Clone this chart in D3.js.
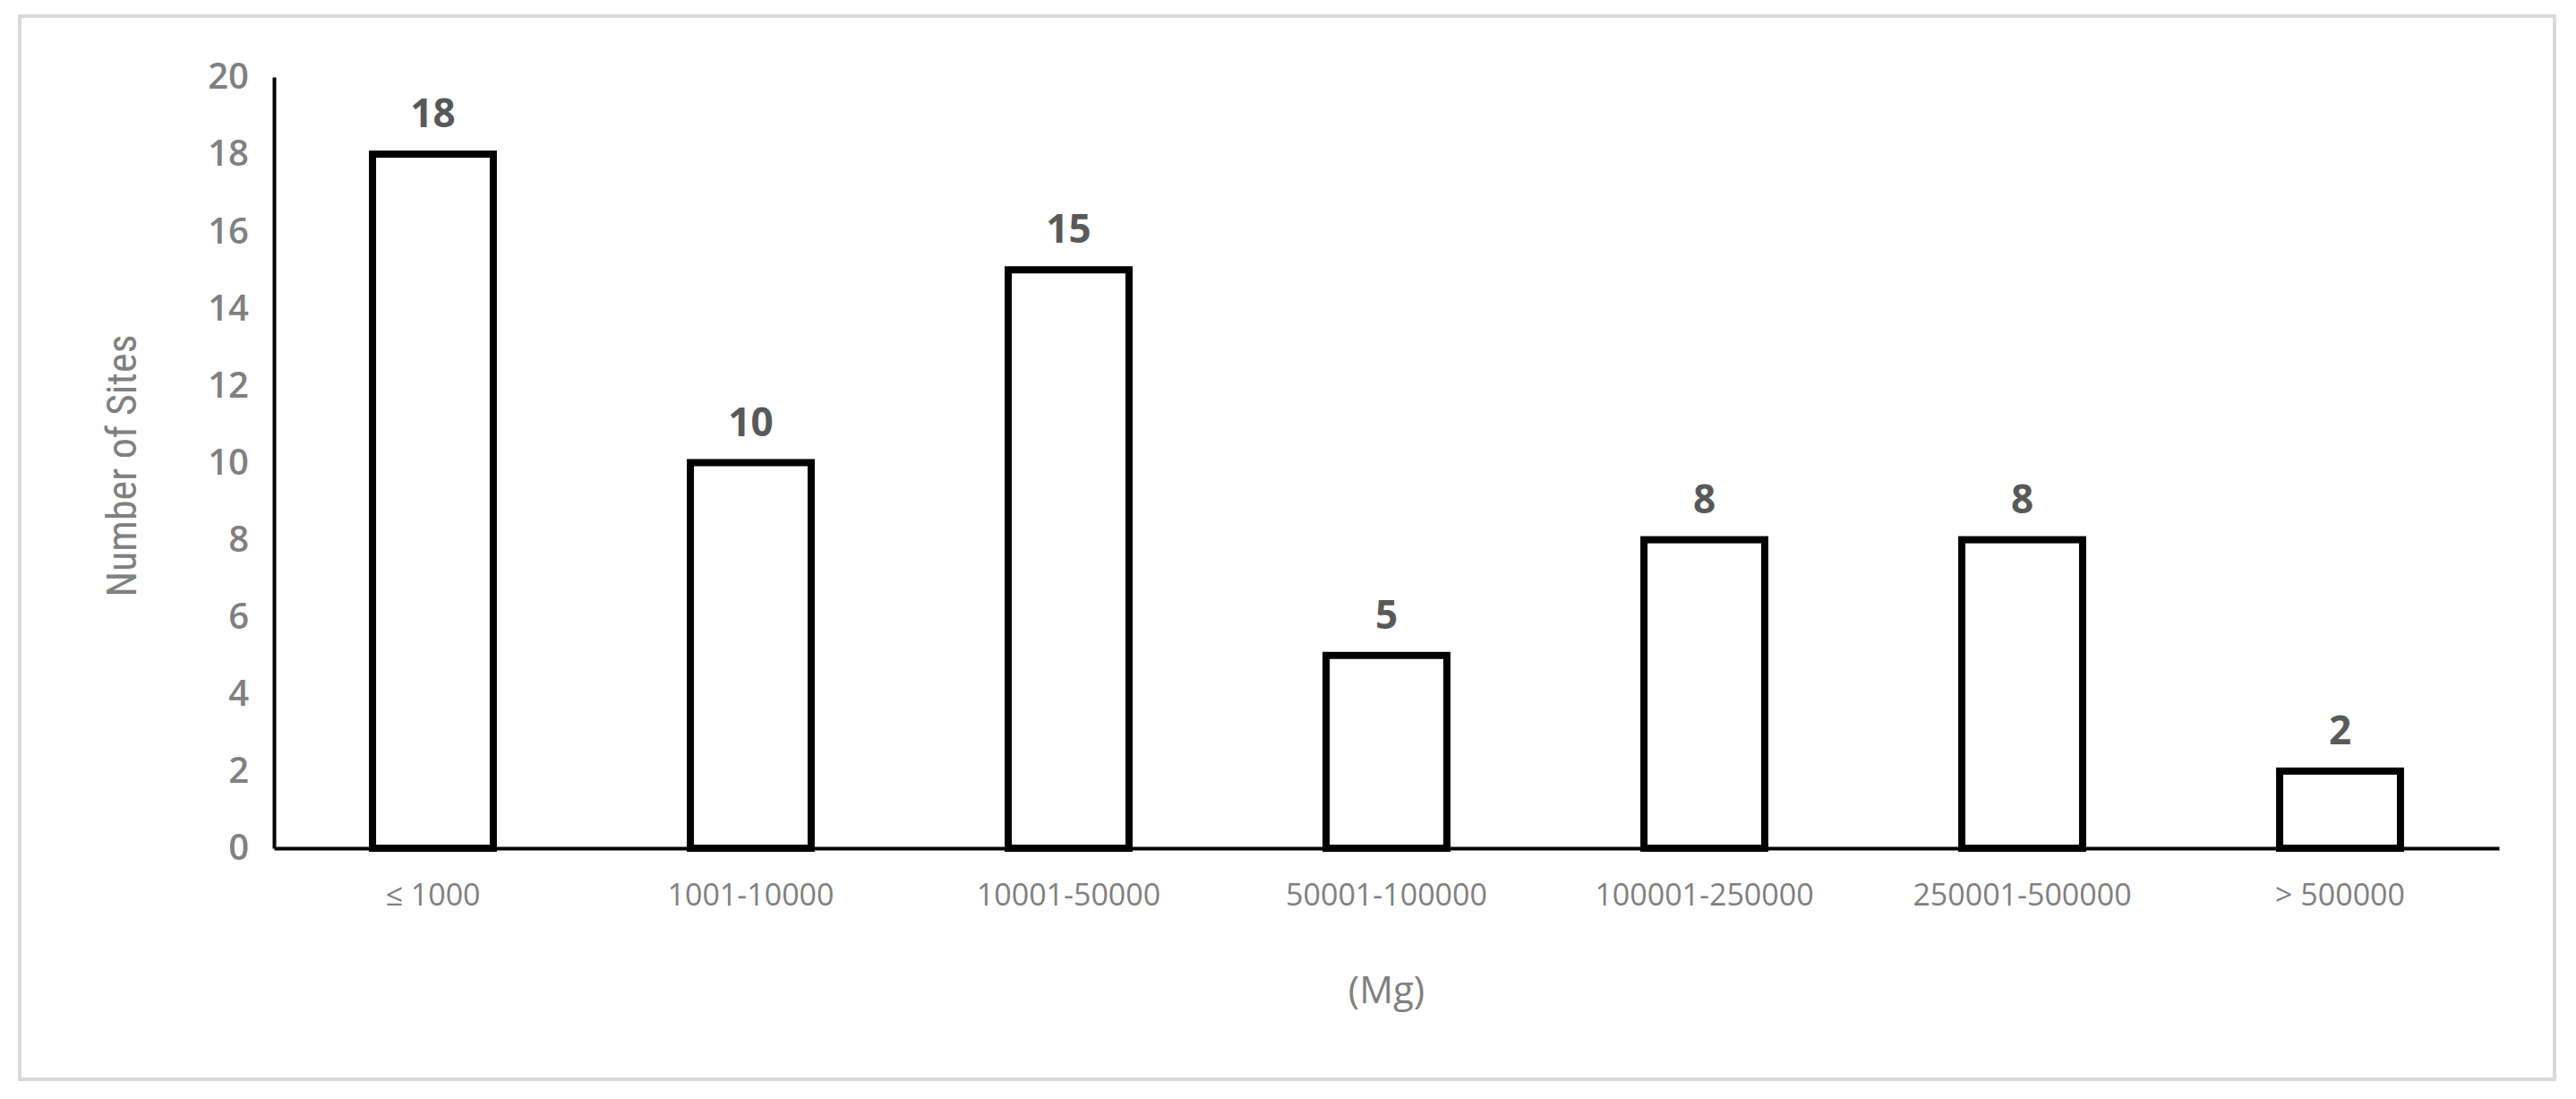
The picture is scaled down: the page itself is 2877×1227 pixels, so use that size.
<!DOCTYPE html>
<html><head><meta charset="utf-8">
<script src="https://cdn.jsdelivr.net/npm/d3@7"></script>
<style>body{margin:0;background:#fff}</style></head>
<body><svg id="c" width="2877" height="1227"></svg>
<script>
const categories = ["≤ 1000","1001-10000","10001-50000","50001-100000","100001-250000","250001-500000","> 500000"];
const values = [18,10,15,5,8,8,2];
const yTicks = [0,2,4,6,8,10,12,14,16,18,20];

const svg = d3.select("#c");
svg.append("rect").attr("x",22).attr("y",18).attr("width",2831).attr("height",1187)
  .attr("fill","#fff").attr("stroke","#d9d9d9").attr("stroke-width",4);
const L=306,R=2791,T=86,B=947;
const x=d3.scaleBand().domain(categories).range([L,R]).paddingInner(0.62).paddingOuter(0.31);
const y=d3.scaleLinear().domain([0,20]).range([B,T]);

const ya=svg.append("g").attr("transform",`translate(${L},0)`).call(d3.axisLeft(y).tickValues(yTicks).tickSize(0).tickPadding(28));
ya.select(".domain").attr("stroke","#000").attr("stroke-width",4);
ya.selectAll("text").attr("font-family","Open Sans").attr("font-weight","600").attr("font-size",40).attr("fill","#808080");

svg.selectAll("rect.bar").data(values).join("rect").attr("class","bar")
  .attr("x",(d,i)=>x(categories[i])).attr("width",x.bandwidth())
  .attr("y",d=>y(d)).attr("height",d=>B-y(d))
  .attr("fill","#fff").attr("stroke","#000").attr("stroke-width",8);

const xa=svg.append("g").attr("transform",`translate(0,${B})`).call(d3.axisBottom(x).tickSize(0).tickPadding(40));
xa.select(".domain").attr("stroke","#000").attr("stroke-width",4);
xa.selectAll("text").attr("font-family","Open Sans").attr("font-size",34).attr("fill","#808080");

svg.selectAll("text.val").data(values).join("text").attr("class","val")
  .attr("x",(d,i)=>x(categories[i])+x.bandwidth()/2).attr("y",d=>y(d)-30)
  .attr("text-anchor","middle").attr("font-family","Open Sans").attr("font-weight","700")
  .attr("font-size",44).attr("fill","#595959").text(d=>d);

svg.append("text").attr("x",(L+R)/2).attr("y",1120).attr("text-anchor","middle")
  .attr("font-family","Open Sans").attr("font-size",42).attr("fill","#808080").text("(Mg)");
svg.append("text").attr("transform","translate(152,520) rotate(-90)").attr("text-anchor","middle")
  .attr("font-family","'Liberation Sans Narrow','Roboto Condensed',sans-serif").attr("font-size",46).attr("fill","#808080").text("Number of Sites");
</script></body></html>
